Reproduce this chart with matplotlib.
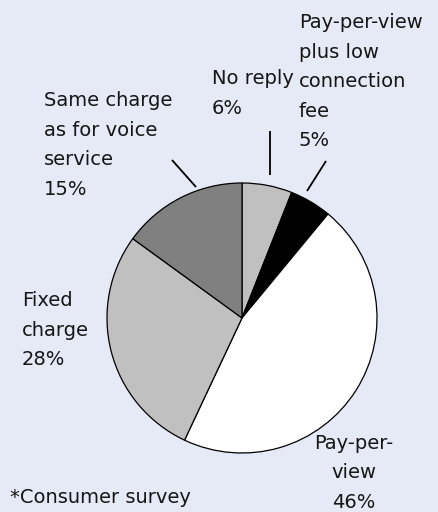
import matplotlib
matplotlib.use("Agg")
import matplotlib.pyplot as plt

# Survey: preferred charging model (share of respondents, %)
labels = ["No reply", "Pay-per-view\nplus low\nconnection\nfee", "Pay-per-\nview",
          "Fixed\ncharge", "Same charge\nas for voice\nservice"]
shares = [6, 5, 46, 28, 15]
colors = ["#c0c0c0", "#000000", "#ffffff", "#c0c0c0", "#808080"]
footnote = "*Consumer survey"

W, H = 439, 512
BG = "#e6e9f6"

fig = plt.figure(figsize=(W / 100, H / 100), dpi=100, facecolor=BG)
ax = fig.add_axes([0, 0, 1, 1])


def Y(py):
    return H - py


cx, cy, r = 242, Y(318), 135
ax.pie(shares, colors=colors, startangle=90, counterclock=False,
       center=(cx, cy), radius=r, frame=True,
       wedgeprops=dict(edgecolor="black", linewidth=0.9))
ax.set_xlim(0, W)
ax.set_ylim(0, H)
ax.set_aspect("equal")
ax.axis("off")

font = dict(family="DejaVu Sans", fontsize=14, color="#161616", linespacing=1.70)

# label text blocks (x, top y, alignment)
label_pos = [
    (212, 69, "left"),
    (299, 13, "left"),
    (354, 434, "center"),
    (22, 291, "left"),
    (44, 91, "left"),
]
for lab, val, (x, y, ha) in zip(labels, shares, label_pos):
    ax.text(x, Y(y), f"{lab}\n{val}%", ha=ha, va="top", multialignment=ha, **font)

# leader lines
leaders = [
    ((270, 131), (270, 175)),
    ((326, 161), (307, 191)),
    ((172, 160), (196, 187)),
]
for (x0, y0), (x1, y1) in leaders:
    ax.plot([x0, x1], [Y(y0), Y(y1)], color="black", linewidth=1.3,
            solid_capstyle="butt")

ax.text(10, Y(498), footnote, ha="left", va="center", **font)

fig.savefig("out.png", dpi=100, facecolor=BG)
